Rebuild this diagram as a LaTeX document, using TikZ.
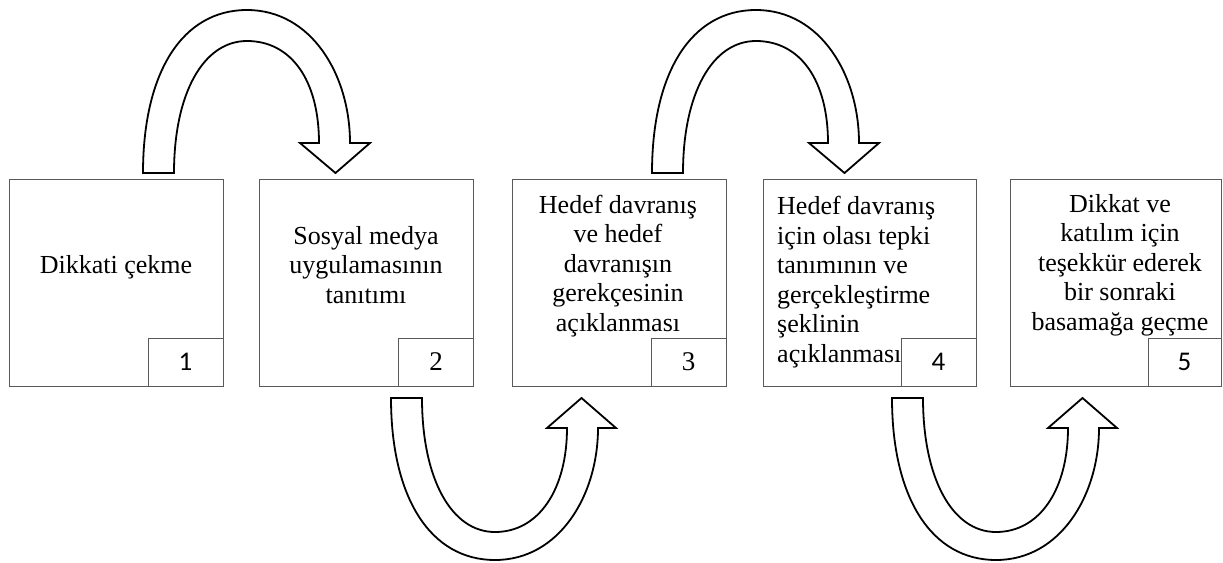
\documentclass[tikz,border=0pt]{standalone}
\usepackage{fontspec}
\setmainfont{Liberation Serif}
\newfontfamily\numfont{Carlito}
\begin{document}
\begin{tikzpicture}[x=1pt,y=1pt,
  box/.style={draw=black!65, line width=0.9pt, minimum width=214pt, minimum height=207pt, inner sep=0pt},
  numbox/.style={draw=black!65, line width=0.9pt, minimum width=75pt, minimum height=48pt, inner sep=0pt, anchor=south east, font=\fontsize{27}{30}\selectfont},
  lbl/.style={align=center, inner sep=0pt, font=\fontsize{26}{29.5}\selectfont},
  blockarrow/.style={draw=black, line width=1.8pt, fill=white, line join=miter}
]
\useasboundingbox (0,0) rectangle (1223,-562);
% boxes
\node[box] (b1) at (116,-282.5) {};
\node[box] (b2) at (366.5,-282.5) {};
\node[box] (b3) at (619,-282.5) {};
\node[box, minimum width=213pt] (b4) at (869.5,-282.5) {};
\node[box, minimum width=211pt] (b5) at (1115.5,-282.5) {};
\node[numbox] (n1) at (b1.south east) {\numfont 1};
\node[numbox] (n2) at (b2.south east) {2};
\node[numbox] (n3) at (b3.south east) {3};
\node[numbox] (n4) at (b4.south east) {\numfont 4};
\node[numbox, minimum width=73pt] (n5) at (b5.south east) {\numfont 5};
% texts
\node[lbl] (t1) at (116,-267) {Dikkati çekme};
\node[lbl] (t2) at (366,-265) {Sosyal medya\\uygulamasının\\tanıtımı};
\node[lbl] (t3) at (618,-266) {Hedef davranış\\ve hedef\\davranışın\\gerekçesinin\\açıklanması};
\node[lbl, align=left, anchor=west] (t4) at (777,-282) {Hedef davranış\\için olası tepki\\tanımının ve\\gerçekleştirme\\şeklinin\\açıklanması};
\node[lbl] (t5) at (1120,-265) {Dikkat ve\\katılım için\\teşekkür ederek\\bir sonraki\\basamağa geçme};
% top block arrows
\foreach \dx in {0,509} {
  \draw[blockarrow, xshift=\dx] (143,-173) .. controls (143,-72) and (182.5,-10) .. (247,-10)
     .. controls (311.5,-10) and (350,-75) .. (350,-143)
     -- (370,-143) -- (335.5,-173) -- (300,-143) -- (319,-143)
     .. controls (319,-80) and (291,-41) .. (247,-41)
     .. controls (203,-41) and (174,-94) .. (174,-173) -- cycle;
}
% bottom block arrows
\foreach \dx in {0,501} {
  \draw[blockarrow, xshift=\dx] (391,-398) .. controls (391,-498) and (430.5,-560) .. (495,-560)
     .. controls (559.5,-560) and (598,-495) .. (598,-428)
     -- (616,-428) -- (581.5,-398) -- (547,-428) -- (567,-428)
     .. controls (567,-489) and (539,-532) .. (495,-532)
     .. controls (451,-532) and (422,-478) .. (422,-398) -- cycle;
}
\end{tikzpicture}
\end{document}
